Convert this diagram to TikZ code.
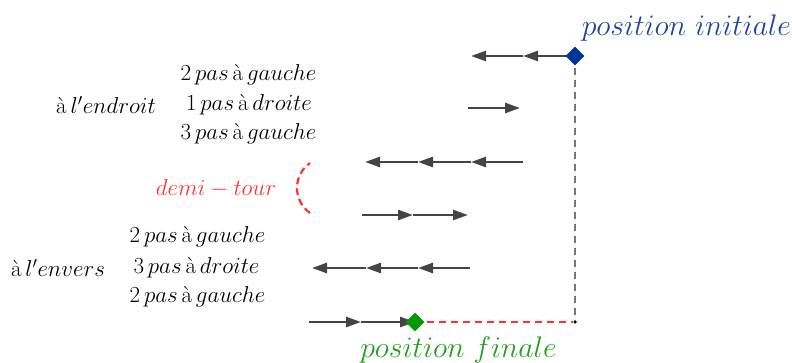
\RequirePackage{fix-cm}
\documentclass[tikz,border=0pt]{standalone}
\usepackage{amsmath}
\usetikzlibrary{arrows.meta,shapes.geometric}
\definecolor{arrgray}{HTML}{444444}
\definecolor{ggblue}{HTML}{003399}
\definecolor{txtblue}{HTML}{2244A0}
\definecolor{gggreen}{HTML}{009900}
\definecolor{txtgreen}{HTML}{22A022}
\definecolor{ggred}{HTML}{FF3333}
\definecolor{dashgray}{HTML}{777777}
\tikzset{
  arr/.style={draw=arrgray, line width=2.6pt, -{Triangle[length=15pt,width=10pt]}},
  lbl/.style={inner sep=0pt, font=\fontsize{23}{28}\selectfont},
  big/.style={inner sep=0pt, font=\fontsize{29.8}{36}\selectfont},
  pt/.style={diamond, inner sep=0pt, minimum width=19pt, minimum height=19pt},
  gdash/.style={draw=dashgray, line width=1.8pt, dash pattern=on 7pt off 5pt},
  rdash/.style={draw=ggred, line width=1.8pt, dash pattern=on 7pt off 5pt},
}
\newcommand{\agr}{\text{\`a}}
\begin{document}
\begin{tikzpicture}[x=1pt,y=-1pt]
\useasboundingbox (0,0) rectangle (792,363);
% coordinates of positions
\coordinate (a0) at (575,56);
\coordinate (a1) at (523,56);
\coordinate (a2) at (471,56);
\coordinate (b0) at (468,108);
\coordinate (b1) at (520,108);
\coordinate (c0) at (523,162);
\coordinate (c1) at (471,162);
\coordinate (c2) at (418,162);
\coordinate (c3) at (365,162);
\coordinate (d0) at (362,215);
\coordinate (d1) at (413,215);
\coordinate (d2) at (468,215);
\coordinate (e0) at (470,268);
\coordinate (e1) at (418,268);
\coordinate (e2) at (366,268);
\coordinate (e3) at (312,268);
\coordinate (f0) at (309,322);
\coordinate (f1) at (361,322);
\coordinate (f2) at (415,322);
\node[circle, fill=black, inner sep=0pt, minimum size=3.5pt] (corner) at (575,322) {};
% dashed guides
\draw[gdash] (a0) -- (corner);
\draw[rdash] (f2) -- (corner);
% arrows
\draw[arr] (a0) -- (a1);
\draw[arr] (a1) -- (a2);
\draw[arr] (b0) -- (b1);
\draw[arr] (c0) -- (c1);
\draw[arr] (c1) -- (c2);
\draw[arr] (c2) -- (c3);
\draw[arr] (d0) -- (d1);
\draw[arr] (d1) -- (d2);
\draw[arr] (e0) -- (e1);
\draw[arr] (e1) -- (e2);
\draw[arr] (e2) -- (e3);
\draw[arr] (f0) -- (f1);
\draw[arr] (f1) -- (f2);
% demi-tour arc
\draw[rdash, line width=2.2pt, dash pattern=on 7pt off 4pt] (327.5,188) ++(125:30.5) arc[start angle=125, end angle=235, radius=30.5];
% diamonds
\node[pt, fill=ggblue] (init) at (a0) {};
\node[pt, fill=gggreen] (fin) at (f2) {};
% labels
\node[big, text=txtblue] (tinit) at (686.5,28) {$position\ initiale$};
\node[big, text=txtgreen] (tfin) at (458.5,350) {$position\ finale$};
\node[lbl] (t1) at (248.5,75) {$2\,pas\,\agr\,gauche$};
\node[lbl] (t0) at (106,105) {$\agr\,l'endroit$};
\node[lbl] (t2) at (249,105) {$1\,pas\,\agr\,droite$};
\node[lbl] (t3) at (248.5,134) {$3\,pas\,\agr\,gauche$};
\node[lbl, text=ggred] (td) at (216,188) {$demi-tour$};
\node[lbl] (t4) at (197.5,237) {$2\,pas\,\agr\,gauche$};
\node[lbl] (t5) at (58,268) {$\agr\,l'envers$};
\node[lbl] (t6) at (196.5,268) {$3\,pas\,\agr\,droite$};
\node[lbl] (t7) at (197.5,297) {$2\,pas\,\agr\,gauche$};
\end{tikzpicture}
\end{document}
